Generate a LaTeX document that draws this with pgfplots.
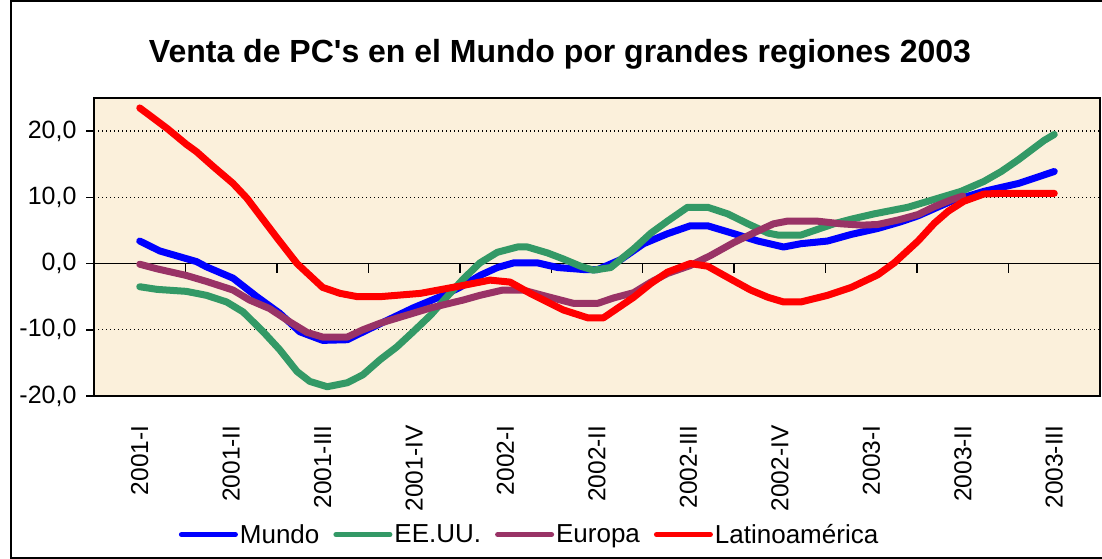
\documentclass[border=0pt]{standalone}
\usepackage{pgfplots}
\pgfplotsset{compat=1.18}
\usepackage{pgfplotstable}
\usepackage{fontspec}
\setmainfont{Liberation Sans}[Ligatures=TeXOff]
\definecolor{bgbeige}{RGB}{251,240,219}
\definecolor{cmundo}{RGB}{0,0,255}
\definecolor{ceeuu}{RGB}{51,153,102}
\definecolor{ceuropa}{RGB}{153,51,102}
\definecolor{clatam}{RGB}{255,0,0}

\pgfplotstableread{
x y
0 3.4
0.22 1.9
0.62 0.3
0.73 -0.5
1.02 -2.2
1.28 -5.0
1.53 -7.5
1.75 -10.3
2.0 -11.6
2.27 -11.5
2.49 -10.0
2.99 -6.7
3.32 -4.8
3.5 -3.6
3.72 -1.8
3.91 -0.6
4.09 0.1
4.35 0.1
4.57 -0.6
4.85 -0.9
5.01 -0.9
5.26 0.6
5.51 3.0
5.77 4.5
6.02 5.7
6.21 5.7
6.5 4.5
6.76 3.4
7.04 2.5
7.23 3.0
7.52 3.4
7.78 4.4
8.07 5.3
8.32 6.3
8.51 7.2
8.87 9.4
9.23 10.9
9.61 12.1
10.0 13.9
}\mundo

\pgfplotstableread{
x y
0 -3.5
0.19 -3.9
0.51 -4.2
0.73 -4.8
0.95 -5.8
1.13 -7.3
1.35 -10.3
1.53 -13.0
1.72 -16.3
1.86 -17.8
2.05 -18.6
2.27 -18.0
2.44 -16.8
2.63 -14.5
2.81 -12.6
2.99 -10.3
3.18 -7.8
3.36 -5.0
3.54 -2.3
3.72 0.1
3.91 1.7
4.13 2.5
4.24 2.5
4.46 1.6
4.63 0.7
4.82 -0.4
4.96 -1.0
5.15 -0.6
5.40 2.2
5.59 4.6
5.77 6.4
5.99 8.5
6.21 8.5
6.43 7.5
6.65 6.0
6.87 4.6
6.98 4.3
7.23 4.3
7.42 5.2
7.59 6.0
7.78 6.7
8.03 7.5
8.40 8.5
8.69 9.7
8.98 10.9
9.23 12.4
9.42 13.9
9.61 15.7
9.89 18.6
10.0 19.5
}\eeuu

\pgfplotstableread{
x y
0 -0.1
0.19 -0.8
0.51 -1.8
0.73 -2.7
1.02 -4.0
1.20 -5.5
1.42 -6.8
1.64 -8.8
1.83 -10.4
2.0 -11.1
2.27 -11.1
2.44 -10.0
2.63 -9.0
2.99 -7.5
3.18 -6.7
3.54 -5.5
3.72 -4.8
3.97 -4.0
4.19 -4.0
4.46 -5.0
4.74 -6.0
5.01 -6.0
5.18 -5.2
5.40 -4.4
5.59 -2.8
5.77 -1.5
6.02 -0.3
6.24 1.2
6.50 3.2
6.71 4.6
6.93 6.0
7.08 6.4
7.41 6.4
7.67 6.0
7.90 5.8
8.07 5.9
8.30 6.6
8.51 7.4
8.69 8.6
8.87 9.6
9.0 10.2
}\europa

\pgfplotstableread{
x y
0 23.5
0.30 20.4
0.51 18.0
0.62 16.9
0.80 14.7
1.02 12.1
1.17 9.9
1.50 3.9
1.72 0.0
2.0 -3.6
2.19 -4.5
2.38 -5.0
2.63 -5.0
3.07 -4.5
3.5 -3.4
3.83 -2.5
4.05 -2.8
4.27 -4.5
4.63 -7.0
4.90 -8.2
5.07 -8.2
5.40 -5.1
5.59 -3.0
5.77 -1.3
6.02 0.0
6.21 -0.4
6.43 -2.1
6.68 -4.0
6.87 -5.1
7.04 -5.8
7.23 -5.8
7.52 -4.8
7.78 -3.6
8.07 -1.7
8.25 0.1
8.51 3.4
8.69 6.1
8.84 7.9
9.01 9.4
9.23 10.5
9.42 10.6
10.0 10.6
}\latam

\begin{document}
\begin{tikzpicture}
\clip (0pt,0pt) rectangle (1102pt,559pt);
\fill[white] (0pt,0pt) rectangle (1102pt,559pt);
\draw[line width=1.5pt] (11pt,1pt) rectangle (1130pt,558pt);
\node[font=\bfseries\fontsize{32}{38}\selectfont, anchor=base] at (560pt,496pt) {Venta de PC's en el Mundo por grandes regiones 2003};
\begin{axis}[
  at={(94pt,163pt)}, anchor=south west,
  scale only axis, width=1006pt, height=298pt,
  xmin=-0.5, xmax=10.5, ymin=-20, ymax=25,
  axis background/.style={fill=bgbeige},
  axis line style={line width=1.5pt, black},
  xtick={0,...,10},
  xticklabels={2001-I,2001-II,2001-III,2001-IV,2002-I,2002-II,2002-III,2002-IV,2003-I,2003-II,2003-III},
  xtick style={draw=none},
  xticklabel style={rotate=90, anchor=east, xshift=-18pt, font=\fontsize{24.5}{28}\selectfont},
  ytick={-20,-10,0,10,20},
  yticklabels={{-20,0},{-10,0},{0,0},{10,0},{20,0}},
  yticklabel style={xshift=-6pt, font=\fontsize{25}{28}\selectfont},
  ytick pos=left,
  tick align=outside,
  major tick length=8pt,
  ytick style={black, line width=1.5pt},
  ymajorgrids,
  grid style={black, line width=1.3pt, dash pattern=on 1.3pt off 2.7pt},
  legend columns=4,
  legend style={draw=none, fill=none, font=\fontsize{26}{30}\selectfont,
    at={(0.433,-0.465)}, anchor=center,
    /tikz/every even column/.append style={column sep=12pt}},
  legend image code/.code={\draw[#1, line width=5pt, line cap=round] (0pt,0pt) -- (54pt,0pt);},
  every axis plot/.append style={line width=7pt, line join=round, line cap=round},
]
\draw[black, line width=1.5pt] (axis cs:-0.5,0) -- (axis cs:10.5,0);
\draw[black, line width=1.5pt] (axis cs:0.5,0) -- ++(0pt,-9pt);
\draw[black, line width=1.5pt] (axis cs:1.5,0) -- ++(0pt,-9pt);
\draw[black, line width=1.5pt] (axis cs:2.5,0) -- ++(0pt,-9pt);
\draw[black, line width=1.5pt] (axis cs:3.5,0) -- ++(0pt,-9pt);
\draw[black, line width=1.5pt] (axis cs:4.5,0) -- ++(0pt,-9pt);
\draw[black, line width=1.5pt] (axis cs:5.5,0) -- ++(0pt,-9pt);
\draw[black, line width=1.5pt] (axis cs:6.5,0) -- ++(0pt,-9pt);
\draw[black, line width=1.5pt] (axis cs:7.5,0) -- ++(0pt,-9pt);
\draw[black, line width=1.5pt] (axis cs:8.5,0) -- ++(0pt,-9pt);
\draw[black, line width=1.5pt] (axis cs:9.5,0) -- ++(0pt,-9pt);
\addplot[cmundo] table {\mundo};
\addlegendentry{Mundo}
\addplot[ceeuu] table {\eeuu};
\addlegendentry{EE.UU.}
\addplot[ceuropa] table {\europa};
\addlegendentry{Europa}
\addplot[clatam] table {\latam};
\addlegendentry{Latinoamérica}
\end{axis}
\end{tikzpicture}
\end{document}
